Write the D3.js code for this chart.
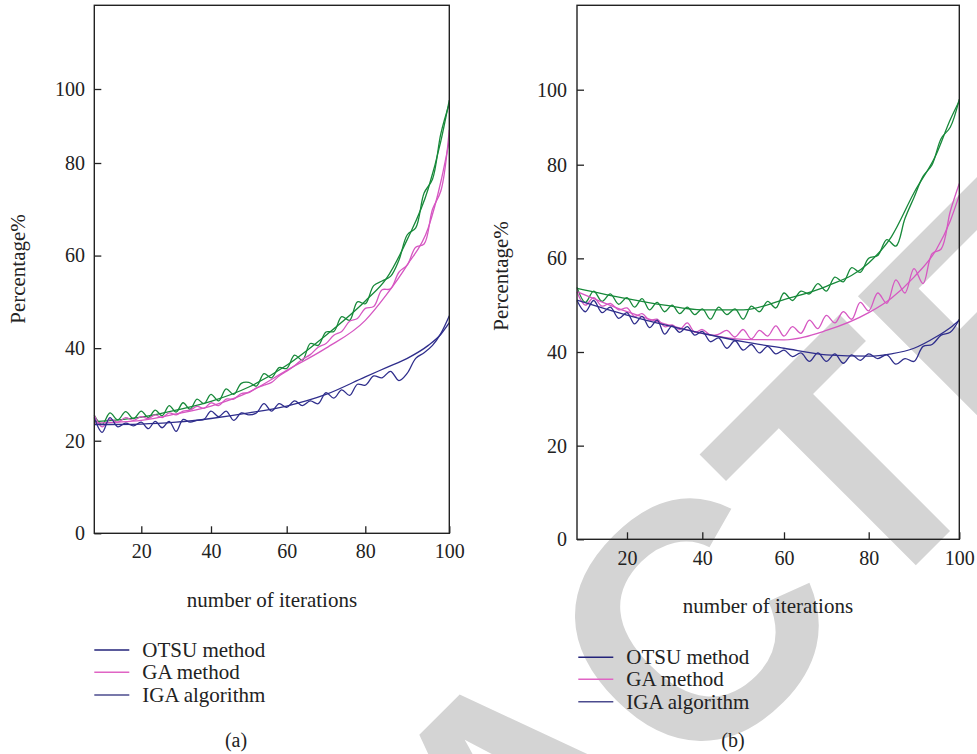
<!DOCTYPE html>
<html>
<head>
<meta charset="utf-8">
<script src="https://cdn.jsdelivr.net/npm/d3@7/dist/d3.min.js"></script>
<style>
  html, body { margin: 0; padding: 0; background: #fff; }
  svg { display: block; }
  text { font-family: "Liberation Serif", "DejaVu Serif", serif; fill: #222; }
</style>
</head>
<body>
<svg id="chart" width="977" height="754"></svg>
<script>
// iteration positions for the noisy curves (both panels)
const iters = [8,10,12,14,16,18,20,22,24,26,28,30,32,34,36,38,40,42,44,46,48,50,52,54,56,58,60,62,64,66,68,70,72,74,76,78,80,82,84,86,88,90,92,94,96,98,100];
// iteration positions for the fitted curves
const fitIters = [8,20,30,40,50,60,70,80,85,90,95,98,100];

const xTicks = [20,40,60,80,100];
const yTicks = [0,20,40,60,80,100];
const legendNames = ["OTSU method","GA method","IGA algorithm"];
const legendColors = ["#23237a","#e064c4","#4b4b8e"];

// panel (a)
const aGreen = [25.5,23.5,26.0,24.5,26.3,24.8,26.4,25.0,26.6,25.4,27.6,26.2,28.2,26.8,29.0,28.0,30.0,28.6,31.2,30.0,32.4,32.6,31.8,34.5,33.6,35.8,35.6,38.5,37.4,41.0,40.6,43.5,43.6,46.8,46.0,50.0,49.6,53.5,54.5,55.5,59.0,64.5,66.0,73.5,76.5,88.0,96.0];
const aPink = [25.5,23.0,24.6,24.0,25.0,24.4,25.2,24.8,25.6,25.0,26.0,25.6,26.4,26.6,27.4,27.0,28.2,27.6,29.0,29.0,30.2,30.4,31.4,32.0,32.6,34.0,35.0,36.2,37.6,38.6,40.2,41.0,42.8,43.6,45.8,46.4,48.6,49.0,52.6,52.8,56.4,58.0,61.8,62.5,70.0,74.0,89.0];
const aBlue = [25.0,21.8,25.0,23.0,23.8,23.2,24.0,22.6,24.2,22.8,24.2,22.0,24.6,24.0,24.4,24.6,26.4,25.2,26.4,24.4,26.0,25.6,26.0,28.0,26.4,28.0,27.2,28.6,27.6,28.6,28.0,30.4,29.2,31.0,29.8,32.2,32.0,34.0,33.6,35.0,33.0,34.6,37.8,39.0,40.6,43.2,47.0];
const aGreenFit = [24.1,25.1,26.6,28.5,31.6,36.3,42.8,50.2,55.0,63.5,74.5,86.0,97.0];
const aPinkFit = [23.8,24.4,25.8,27.5,30.5,35.2,40.0,46.0,51.5,58.0,66.0,76.0,86.0];
const aBlueFit = [23.5,23.6,24.0,24.8,26.0,27.5,30.0,33.8,35.8,37.8,40.6,43.0,45.5];

// panel (b)
const bGreen = [53.8,50.6,53.0,50.8,52.4,50.2,51.6,49.6,51.4,49.0,50.6,48.6,50.0,48.2,49.6,48.0,49.2,47.0,49.6,48.0,49.2,47.0,49.8,48.6,50.8,49.4,52.6,51.0,53.0,52.4,54.6,53.0,56.0,55.0,58.0,57.0,60.0,60.6,64.0,62.6,68.5,73.0,77.5,80.0,87.0,90.0,97.5];
const bPink = [52.8,50.0,51.6,49.8,50.4,49.0,49.4,47.6,48.2,46.8,47.0,45.4,45.8,44.8,46.2,44.2,44.8,43.6,43.8,44.6,43.2,44.8,42.8,44.6,43.4,45.6,43.4,45.4,44.0,46.8,45.0,47.8,46.2,48.6,47.0,50.6,48.8,52.6,50.4,55.4,52.6,57.8,54.6,61.0,62.0,70.0,76.0];
const bBlue = [51.0,48.6,51.0,48.4,49.6,47.2,48.4,46.0,47.6,45.2,46.8,43.8,45.6,44.2,45.4,43.6,44.4,42.2,43.0,40.8,42.4,40.4,41.6,39.8,41.2,39.6,40.4,39.0,39.8,38.0,39.8,38.0,39.6,37.6,39.4,38.2,39.6,38.6,39.4,37.4,38.6,38.0,41.2,41.6,43.6,44.2,47.0];
const bGreenFit = [53.6,51.4,50.0,49.0,49.0,51.2,54.0,59.0,64.6,74.0,83.0,92.0,97.0];
const bPinkFit = [52.9,48.6,46.0,44.0,42.7,42.6,44.6,48.4,51.5,56.0,62.0,68.0,73.5];
const bBlueFit = [51.1,47.9,45.8,44.0,42.2,40.8,39.4,39.1,39.6,40.8,43.3,45.2,46.8];

const GREEN = "#17893a", PINK = "#d657c2", NAVY = "#2f2e8c";

const svg = d3.select("#chart");

// grey watermark behind the plots
svg.append("text")
  .attr("transform", "translate(603,878) rotate(-45)")
  .attr("text-anchor", "middle")
  .style("font-family", "Liberation Sans, Arial, sans-serif")
  .style("font-weight", "bold")
  .style("font-size", "336px")
  .style("fill", "#d4d4d4")
  .text("RETRACTED");

function drawPanel(p) {
  const g = svg.append("g");
  const x = d3.scaleLinear().domain([8,20,40,60,80,100]).range(p.xr);
  const y = d3.scaleLinear().domain([0,80,100,p.yTop]).range(p.yr);

  const noisy = d3.line().x((d, i) => x(iters[i])).y(d => y(d)).curve(d3.curveCatmullRom);
  const fit = d3.line().x((d, i) => x(fitIters[i])).y(d => y(d)).curve(d3.curveMonotoneX);

  p.series.forEach(s => {
    g.append("path").attr("d", fit(s.fit))
      .attr("fill", "none").attr("stroke", s.color).attr("stroke-width", 1.3);
    g.append("path").attr("d", noisy(s.vals))
      .attr("fill", "none").attr("stroke", s.color).attr("stroke-width", 1.3);
  });

  const bottom = p.yr[0];
  g.append("g").attr("transform", `translate(0,${bottom})`)
    .call(d3.axisBottom(x).tickValues(xTicks).tickSize(-7).tickSizeOuter(0).tickPadding(p.xPad))
    .call(a => a.select(".domain").remove())
    .call(a => a.selectAll("line").attr("stroke", "#222").attr("stroke-width", 1.3))
    .call(a => a.selectAll("text").style("font-size", "20px").style("font-family", "Liberation Serif").attr("fill", "#222"));

  g.append("g").attr("transform", `translate(${p.xr[0]},0)`)
    .call(d3.axisLeft(y).tickValues(yTicks).tickSize(-7).tickSizeOuter(0).tickPadding(p.yPad))
    .call(a => a.select(".domain").remove())
    .call(a => a.selectAll("line").attr("stroke", "#222").attr("stroke-width", 1.3))
    .call(a => a.selectAll("text").style("font-size", "20px").style("font-family", "Liberation Serif").attr("fill", "#222"));

  // frame
  g.append("rect")
    .attr("x", p.xr[0]).attr("y", p.yr[3])
    .attr("width", p.xr[5] - p.xr[0]).attr("height", bottom - p.yr[3])
    .attr("fill", "none").attr("stroke", "#222").attr("stroke-width", 1.4);

  g.append("text")
    .attr("transform", `translate(${p.yTitle[0]},${p.yTitle[1]}) rotate(-90)`)
    .attr("text-anchor", "middle").style("font-size", "21px")
    .text("Percentage%");

  g.append("text")
    .attr("x", p.xTitle[0]).attr("y", p.xTitle[1])
    .attr("text-anchor", "middle").style("font-size", "21px")
    .text("number of iterations");

  legendNames.forEach((name, i) => {
    const ly = p.legY[i];
    g.append("line")
      .attr("x1", p.legX).attr("x2", p.legX + 35)
      .attr("y1", ly).attr("y2", ly)
      .attr("stroke", legendColors[i]).attr("stroke-width", 1.4);
    g.append("text")
      .attr("x", p.legX + 48).attr("y", ly + 7)
      .style("font-size", "21px")
      .text(name);
  });

  g.append("text")
    .attr("x", p.label[0]).attr("y", p.label[1])
    .attr("text-anchor", "middle").style("font-size", "20px")
    .text(p.name);
}

drawPanel({
  name: "(a)",
  xr: [94.3,141.3,211,286.7,365.3,449.3],
  yr: [533.3,163,89,5.3], yTop: 122.7,
  xPad: 10.5, yPad: 9.3,
  yTitle: [25, 269], xTitle: [272, 607],
  legX: 94.3, legY: [650, 672.3, 695],
  label: [236, 747],
  series: [
    { vals: aGreen, fit: aGreenFit, color: GREEN },
    { vals: aPink, fit: aPinkFit, color: PINK },
    { vals: aBlue, fit: aBlueFit, color: NAVY }
  ]
});

drawPanel({
  name: "(b)",
  xr: [577,627,702.3,784,868.7,959.3],
  yr: [539.3,164.7,89.7,5.3], yTop: 122.5,
  xPad: 11.5, yPad: 10,
  yTitle: [508, 276], xTitle: [768, 613],
  legX: 578.3, legY: [657.3, 679.3, 701.7],
  label: [733, 747],
  series: [
    { vals: bGreen, fit: bGreenFit, color: GREEN },
    { vals: bPink, fit: bPinkFit, color: PINK },
    { vals: bBlue, fit: bBlueFit, color: NAVY }
  ]
});
</script>
</body>
</html>
